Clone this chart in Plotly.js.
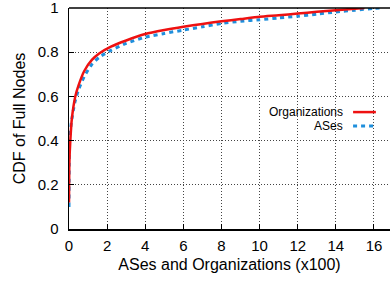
<!DOCTYPE html>
<html><head><meta charset="utf-8">
<script src="https://cdn.plot.ly/plotly-3.0.1.min.js"></script>
<style>html,body{margin:0;padding:0;background:#fff}#c{width:390px;height:281px}</style>
</head><body><div id="c"></div>
<script>
var orgX = [0, 0.02, 0.07, 0.15, 0.33, 0.5, 0.8, 1.2, 1.6, 2.2, 3, 4, 5, 6, 7, 8, 9, 10, 11, 12, 13, 14, 15, 15.5];
var orgY = [0.12, 0.3, 0.4, 0.5, 0.6, 0.65, 0.715, 0.765, 0.795, 0.825, 0.853, 0.882, 0.90, 0.915, 0.928, 0.94, 0.95, 0.96, 0.967, 0.975, 0.983, 0.99, 0.997, 1.0];
var asX = [0, 0.01, 0.03, 0.12, 0.3, 0.5, 0.8, 1.2, 1.6, 2.2, 3, 4, 5, 6, 7, 8, 9, 10, 11, 12, 13, 14, 15, 16, 16.4];
var asY = [0.1, 0.3, 0.4, 0.48, 0.57, 0.63, 0.69, 0.745, 0.778, 0.808, 0.84, 0.868, 0.885, 0.90, 0.915, 0.93, 0.94, 0.947, 0.955, 0.963, 0.972, 0.982, 0.99, 0.998, 1.0];
var xTicks = [0, 2, 4, 6, 8, 10, 12, 14, 16];
var yTicks = [0, 0.2, 0.4, 0.6, 0.8, 1];
var yTickText = ['0', '0.2', '0.4', '0.6', '0.8', '1'];
var names = ['Organizations', 'ASes'];

var font = {family: 'Liberation Sans, Arial, sans-serif', color: '#000'};
var data = [
  {x: asX, y: asY, mode: 'lines', name: names[1], line: {color: '#1f8fdc', width: 3, dash: '4px,4px', shape: 'spline', smoothing: 0.6}, showlegend: false},
  {x: orgX, y: orgY, mode: 'lines', name: names[0], line: {color: '#ee1111', width: 2.5, shape: 'spline', smoothing: 0.6}, showlegend: false}
];
var layout = {
  width: 390, height: 281,
  margin: {l: 69, r: 0, t: 8, b: 52},
  paper_bgcolor: '#fff', plot_bgcolor: '#fff',
  font: Object.assign({size: 15}, font),
  xaxis: {
    range: [0, 16.84], tickvals: xTicks, ticks: 'inside', ticklen: 5, tickcolor: '#000', tickwidth: 1,
    showline: true, linecolor: '#000', linewidth: 1.5, zeroline: false,
    showgrid: true, gridcolor: '#444', griddash: '1px,2px', gridwidth: 1,
    tickfont: {size: 15}, ticklabelstandoff: 2, ticklabeloverflow: 'allow',
    title: {text: 'ASes and Organizations (x100)', font: {size: 16}, standoff: 6}
  },
  yaxis: {
    range: [0, 1], tickvals: yTicks, ticktext: yTickText, ticks: 'inside', ticklen: 5, tickcolor: '#000', tickwidth: 1,
    showline: true, linecolor: '#000', linewidth: 1.5, zeroline: false,
    showgrid: true, gridcolor: '#444', griddash: '1px,2px', gridwidth: 1,
    tickfont: {size: 15}, ticklabelstandoff: 6, ticklabeloverflow: 'allow',
    title: {text: 'CDF of Full Nodes', font: {size: 16}, standoff: 8}
  },
  shapes: [
    {type: 'line', xref: 'paper', yref: 'paper', x0: 0, x1: 1, y0: 1, y1: 1, line: {color: '#000', width: 1.5}},
    {type: 'line', xref: 'paper', yref: 'paper', x0: 0.885, x1: 0.956, y0: 0.529, y1: 0.529, line: {color: '#ee1111', width: 2.5}},
    {type: 'line', xref: 'paper', yref: 'paper', x0: 0.885, x1: 0.956, y0: 0.466, y1: 0.466, line: {color: '#1f8fdc', width: 3, dash: '4px,4px'}}
  ],
  annotations: [
    {xref: 'paper', yref: 'paper', x: 0.856, y: 0.529, xanchor: 'right', yanchor: 'middle', text: names[0], showarrow: false, borderpad: 0, font: {size: 12}},
    {xref: 'paper', yref: 'paper', x: 0.856, y: 0.466, xanchor: 'right', yanchor: 'middle', text: names[1], showarrow: false, borderpad: 0, font: {size: 12}}
  ]
};
Plotly.newPlot('c', data, layout, {staticPlot: true, displayModeBar: false});
</script></body></html>
